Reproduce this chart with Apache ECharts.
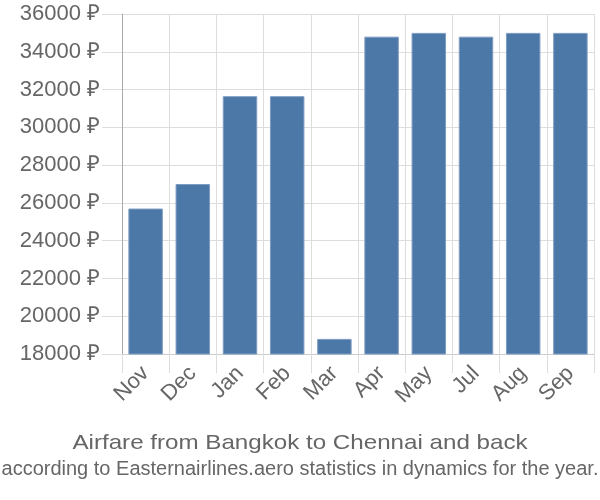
<!DOCTYPE html>
<html>
<head>
<meta charset="utf-8">
<script src="https://cdn.jsdelivr.net/npm/echarts@6/dist/echarts.min.js"></script>
<style>html,body{margin:0;padding:0;background:#fff}#c{width:600px;height:500px}</style>
</head>
<body>
<div id="c"></div>
<script>
const categories = ['Nov','Dec','Jan','Feb','Mar','Apr','May','Jul','Aug','Sep'];
const prices = [25700, 27000, 31650, 31650, 18800, 34800, 35000, 34800, 35000, 35000];
const yMin = 18000, yMax = 36000, yStep = 2000;
const titleText = 'Airfare from Bangkok to Chennai and back';
const subtitleText = 'according to Easternairlines.aero statistics in dynamics for the year.';

const chart = echarts.init(document.getElementById('c'), null, {renderer: 'canvas'});
chart.setOption({
  animation: false,
  backgroundColor: '#fff',
  grid: {left: 122, right: 6, top: 14, bottom: 146, containLabel: false},
  xAxis: {
    type: 'category',
    data: categories,
    boundaryGap: true,
    axisLine: {show: true, lineStyle: {color: '#ccc', width: 1}},
    axisTick: {show: true, length: 19, interval: 0, lineStyle: {color: '#ddd'}},
    splitLine: {show: true, interval: 0, lineStyle: {color: '#ddd'}},
    axisLabel: {
      interval: 0, rotate: 45, margin: 16,
      color: '#666', fontSize: 22, fontFamily: 'Liberation Sans, Arial, sans-serif'
    }
  },
  yAxis: {
    type: 'value',
    min: yMin, max: yMax, interval: yStep,
    axisLine: {show: true, lineStyle: {color: '#aaa'}},
    axisTick: {show: true, length: 20, lineStyle: {color: '#ddd'}},
    splitLine: {show: true, lineStyle: {color: '#ddd'}},
    axisLabel: {
      margin: 22, color: '#666', fontSize: 22,
      fontFamily: 'Liberation Sans, Arial, sans-serif',
      formatter: v => v + ' ₽'
    }
  },
  series: [{
    type: 'bar',
    data: prices,
    barCategoryGap: '27%',
    itemStyle: {color: '#4c78a8', borderColor: '#7d9cc2', borderWidth: 1}
  }],
  graphic: [
    {type: 'text', x: 300, y: 454, scaleX: 1.15, originX: 0,
     style: {text: titleText, fill: '#666', align: 'center', verticalAlign: 'bottom',
             font: '21px "Liberation Sans", Arial, sans-serif'}},
    {type: 'text', x: 300, y: 479,
     style: {text: subtitleText, fill: '#666', align: 'center', verticalAlign: 'bottom',
             font: '20px "Liberation Sans", Arial, sans-serif'}}
  ]
});
</script>
</body>
</html>
